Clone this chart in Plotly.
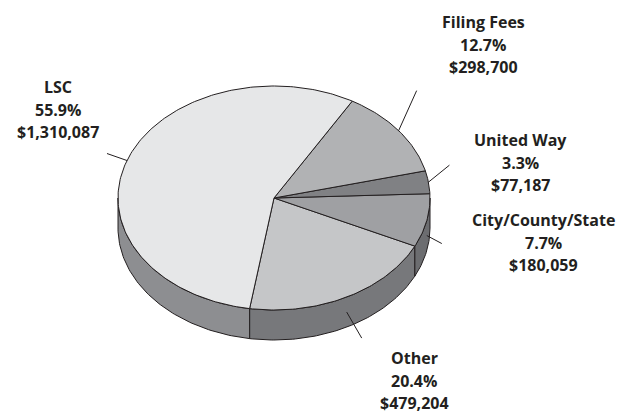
import numpy as np
import plotly.graph_objects as go

# ---- data ----
categories = ["Other", "City/County/State", "United Way", "Filing Fees", "LSC"]
amounts = [479204, 180059, 77187, 298700, 1310087]
pct_labels = ["20.4%", "7.7%", "3.3%", "12.7%", "55.9%"]
amount_labels = ["$479,204", "$180,059", "$77,187", "$298,700", "$1,310,087"]

# ---- styling / layout ----
top_colors = ["#c5c6c8", "#9fa0a3", "#808184", "#b1b2b4", "#e6e7e8"]
side_colors = ["#77787b", "#6c6d70", "#5e5f62", "#8a8b8e", "#8d8e91"]
label_pos = [(414, 358), (543, 220), (520, 140), (483, 22), (58, 87)]
leader_off = [(15, 26), (15, 8), (21, -17), (18, -40), (-20, -7)]
LINE_GAP = 22.6
INK = "#231f20"

CX, CY, RX, RY, DEPTH = 274, 198, 156, 112, 30
START = -99.0


def arc(t1, t2, dy=0.0, n=None):
    if n is None:
        n = max(2, int(abs(t2 - t1) / 1.0) + 2)
    t = np.radians(np.linspace(t1, t2, n))
    return CX + RX * np.cos(t), CY - RY * np.sin(t) + dy


total = float(sum(amounts))
spans = [a / total * 360.0 for a in amounts]
bounds = []
s = START
for sp in spans:
    bounds.append((s, s + sp))
    s += sp

fig = go.Figure()

# side walls (front half only)
for i, (t1, t2) in enumerate(bounds):
    for k in (0, 1):
        lo, hi = k * 360 - 180, k * 360
        a, b = max(t1, lo), min(t2, hi)
        if b - a > 0.01:
            xt, yt = arc(a, b)
            xb, yb = arc(b, a, DEPTH)
            xs = np.concatenate([xt, xb, xt[:1]])
            ys = np.concatenate([yt, yb, yt[:1]])
            fig.add_trace(go.Scatter(x=xs, y=ys, mode="lines", fill="toself",
                                     fillcolor=side_colors[i],
                                     line=dict(color=INK, width=1),
                                     hoverinfo="skip", showlegend=False))

# top faces
for i, (t1, t2) in enumerate(bounds):
    xa, ya = arc(t1, t2)
    xs = np.concatenate([[CX], xa, [CX]])
    ys = np.concatenate([[CY], ya, [CY]])
    fig.add_trace(go.Scatter(x=xs, y=ys, mode="lines", fill="toself",
                             fillcolor=top_colors[i],
                             line=dict(color=INK, width=1),
                             hoverinfo="skip", showlegend=False))

# leader lines and labels
annotations = []
for i, (t1, t2) in enumerate(bounds):
    mid = (t1 + t2) / 2.0
    t = np.radians(mid)
    x0 = CX + RX * np.cos(t)
    y0 = CY - RY * np.sin(t)
    if np.sin(t) < 0:
        y0 += DEPTH / 2.0
    dx, dy = leader_off[i]
    fig.add_trace(go.Scatter(x=[x0, x0 + dx], y=[y0, y0 + dy], mode="lines",
                             line=dict(color=INK, width=1),
                             hoverinfo="skip", showlegend=False))
    lx, ly = label_pos[i]
    for j, txt in enumerate([categories[i], pct_labels[i], amount_labels[i]]):
        annotations.append(dict(x=lx, y=ly + j * LINE_GAP, text="<b>%s</b>" % txt,
                                showarrow=False, xref="x", yref="y",
                                xanchor="center", yanchor="middle",
                                font=dict(family="Open Sans", size=16, color=INK)))

fig.update_layout(
    width=624, height=414,
    margin=dict(l=0, r=0, t=0, b=0),
    paper_bgcolor="white", plot_bgcolor="white",
    xaxis=dict(range=[0, 624], visible=False, fixedrange=True),
    yaxis=dict(range=[414, 0], visible=False, fixedrange=True),
    annotations=annotations,
    showlegend=False,
)

fig.write_html("out.html")
